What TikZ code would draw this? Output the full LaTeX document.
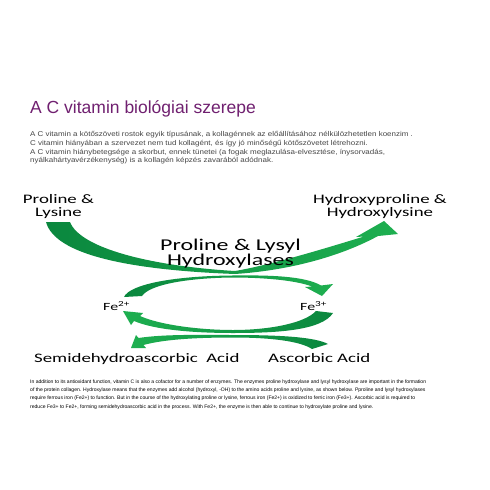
\documentclass[tikz,border=0pt]{standalone}
\usepackage{fontspec}
\setmainfont{Liberation Sans}
\newfontfamily\diagfont[FakeStretch=1.45]{Carlito}
\newfontfamily\introfont[FakeStretch=1.14]{Liberation Sans}
\definecolor{titlecol}{RGB}{112,32,112}
\definecolor{arrowgreen}{RGB}{22,150,72}
\definecolor{arrowdark}{RGB}{10,135,62}
\definecolor{arrowlight}{RGB}{95,200,125}
\definecolor{arrowbright}{RGB}{30,175,80}
\definecolor{bodygray}{RGB}{70,70,70}
\begin{document}
\begin{tikzpicture}[x=1pt,y=-1pt,
  lbl/.style={inner sep=0pt, anchor=base, font=\diagfont\fontsize{13}{13}\selectfont},
  biglbl/.style={inner sep=0pt, anchor=base, font=\diagfont\fontsize{16.5}{12.7}\selectfont},
  felbl/.style={inner sep=0pt, anchor=base west, font=\diagfont\fontsize{11}{11}\selectfont},
  acidlbl/.style={inner sep=0pt, anchor=base west, font=\diagfont\fontsize{13}{13}\selectfont},
  para/.style={inner sep=0pt, anchor=base west},
  garrow/.style={shading=axis, left color=arrowdark, middle color=arrowlight, right color=arrowbright, shading angle=90},
  garrowrev/.style={shading=axis, left color=arrowbright, middle color=arrowlight, right color=arrowdark, shading angle=90}]
\fill[white] (0,0) rectangle (490,490);
\useasboundingbox (0,0) rectangle (490,490);

% title and intro text
\node[para, font=\fontsize{17.5}{20}\selectfont, text=titlecol] (title) at (30,113) {A C vitamin biológiai szerepe};
\node[para, font=\introfont\fontsize{7}{8.8}\selectfont, text=bodygray] (intro) at (30,136.5)
 {\begin{tabular}[t]{@{}l@{}}
 A C vitamin a kötőszöveti rostok egyik típusának, a kollagénnek az előállításához nélkülözhetetlen koenzim .\\
 C vitamin hiányában a szervezet nem tud kollagént, és így jó minőségű kötőszövetet létrehozni.\\
 A C vitamin hiánybetegsége a skorbut, ennek tünetei (a fogak meglazulása-elvesztése, ínysorvadás,\\
 nyálkahártyavérzékenység) is a kollagén képzés zavarából adódnak.
 \end{tabular}};

% arrows
\path[garrow] (46,222) .. controls (55,255) and (130,270) .. (235,274)
  .. controls (295,270) and (345,254) .. (378,236) -- (398,234) -- (384,221) -- (356,237) -- (364,236.5)
  .. controls (320,250) and (270,265) .. (235,271)
  .. controls (150,266) and (80,248) .. (70,222) -- cycle;
\path[garrow] (124,297) .. controls (130,284) and (175,276) .. (232,275.5)
  .. controls (270,275) and (305,276) .. (321,285.5) -- (333,284) -- (322,296) -- (305,287) -- (312,286.5)
  .. controls (295,280) and (262,277.5) .. (232,277.5)
  .. controls (190,278) and (150,284) .. (142,296) -- cycle;
\path[garrowrev] (123,311) -- (143,313) -- (140,316) .. controls (160,325) and (200,330) .. (233,330)
  .. controls (270,330) and (305,323) .. (316,311) -- (333,313)
  .. controls (322,330) and (280,333) .. (233,333)
  .. controls (195,333) and (155,330) .. (134,321) -- (131,325) -- cycle;
\path[garrowrev] (131,348) -- (136,335) -- (138.5,338) .. controls (165,334) and (200,335) .. (233,335)
  .. controls (280,335) and (315,337) .. (328,344) -- (312,349)
  .. controls (300,341) and (270,337.5) .. (233,337.5)
  .. controls (200,337.5) and (165,339) .. (143.5,345) -- (146,348) -- cycle;

% diagram labels
\node[lbl] (pl) at (58.5,203) {\begin{tabular}[t]{@{}c@{}}Proline \&\\Lysine\end{tabular}};
\node[lbl] (hp) at (380,203) {\begin{tabular}[t]{@{}c@{}}Hydroxyproline \&\\Hydroxylysine\end{tabular}};
\node[biglbl] (enz) at (230.5,250.7) {\begin{tabular}[t]{@{}c@{}}Proline \& Lysyl\\Hydroxylases\end{tabular}};
\node[felbl] (fe2) at (103,310) {Fe\textsuperscript{2+}};
\node[felbl] (fe3) at (300,310) {Fe\textsuperscript{3+}};
\node[acidlbl] (sda) at (34,362) {Semidehydroascorbic\ \ Acid};
\node[acidlbl] (asc) at (268,362) {Ascorbic Acid};

% bottom paragraph
\node[para, font=\fontsize{5.05}{8.2}\selectfont, text=black] (notes) at (30,383.5)
 {\begin{tabular}[t]{@{}l@{}}
 In addition to its antioxidant function, vitamin C is also a cofactor for a number of enzymes. The enzymes proline hydroxylase and lysyl hydroxylase are important in the formation\\
 of the protein collagen. Hydroxylase means that the enzymes add alcohol (hydroxyl, -OH) to the amino acids proline and lysine, as shown below. Pproline and lysyl hydroxylases\\
 require ferrous iron (Fe2+) to function. But in the course of the hydroxylating proline or lysine, ferrous iron (Fe2+) is oxidized to ferric iron (Fe3+). Ascorbic acid is required to\\
 reduce Fe3+ to Fe2+, forming semidehydroascorbic acid in the process. With Fe2+, the enzyme is then able to continue to hydroxylate proline and lysine.
 \end{tabular}};
\end{tikzpicture}
\end{document}
